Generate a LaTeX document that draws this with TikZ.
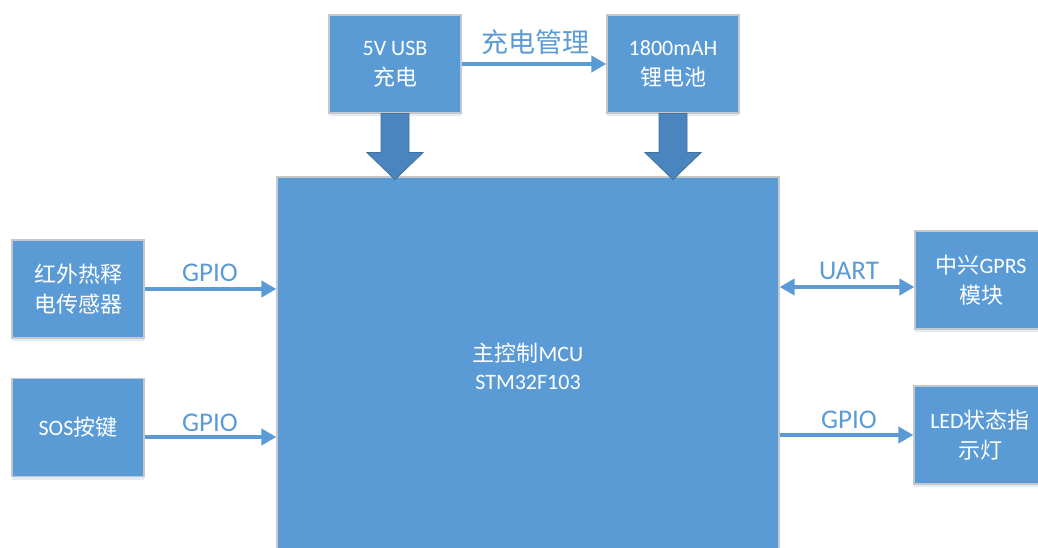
\documentclass[tikz,border=0pt]{standalone}
\usepackage{fontspec}
\setmainfont{Carlito}
\newfontfamily\cjk{Noto Sans CJK SC}
\usetikzlibrary{arrows.meta,shadows}
\definecolor{boxblue}{HTML}{5B9BD5}
\definecolor{arrblue}{HTML}{4A85BF}
\definecolor{arredge}{HTML}{41719C}
\definecolor{boxedge}{HTML}{C4C8CC}
\newcommand\myblockarrow[1]{\draw[blockarr,shift={(#1)}] (-14,0) -- (14,0) -- (14,39) -- (28,39) -- (0,66) -- (-28,39) -- (-14,39) -- cycle;}
\begin{document}
\begin{tikzpicture}[x=1pt,y=-1pt,
  box/.style={draw=boxedge,line width=1.2pt,fill=boxblue,minimum width=132pt,minimum height=98pt,
    text=white,font=\fontsize{22}{30}\selectfont,align=center,inner sep=0pt,
    drop shadow={shadow xshift=0pt,shadow yshift=-3pt,opacity=0.18,fill=boxblue}},
  conn/.style={draw=boxblue,line width=4pt,-{Triangle[length=15pt,width=16pt]}},
  biconn/.style={draw=boxblue,line width=4pt,{Triangle[length=15pt,width=16pt]}-{Triangle[length=15pt,width=16pt]}},
  lbl/.style={text=boxblue,font=\fontsize{27}{30}\selectfont,inner sep=0pt},
  blockarr/.style={fill=arrblue,draw=arredge,line width=0.8pt}]
\clip (0,0) rectangle (1038,548);
\fill[white] (0,0) rectangle (1038,548);
% main MCU
\node[draw=boxedge,line width=1.2pt,fill=boxblue,minimum width=502pt,minimum height=423pt,inner sep=0pt] (main) at (528,388.5) {};
\node[text=white,font=\fontsize{22}{28}\selectfont,align=center,inner sep=0pt] (maintext) at (528,366) {{\cjk 主控制}MCU\\STM32F103};
% boxes
\node[box] (usb) at (395,64) {5V USB\\{\cjk 充电}};
\node[box] (bat) at (673,64) {1800mAH\\{\cjk 锂电池}};
\node[box] (ir) at (78,289) {{\cjk 红外热释}\\{\cjk 电传感器}};
\node[box] (sos) at (78,427.5) {SOS{\cjk 按键}};
\node[box] (gprs) at (981,280) {{\cjk 中兴}GPRS\\{\cjk 模块}};
\node[box] (led) at (980,435) {LED{\cjk 状态指}\\{\cjk 示灯}};
% block arrows
\myblockarrow{usb.south}
\myblockarrow{bat.south}
% connectors
\draw[conn] (usb.east) -- (bat.west);
\node[lbl] (lcharge) at (535,42) {\cjk 充电管理};
\draw[conn] (ir.east) -- (ir.east -| main.west);
\node[lbl] (lgpio1) at (210,273) {GPIO};
\coordinate (sosout) at ([yshift=-9.5pt]sos.east);
\draw[conn] (sosout) -- (sosout -| main.west);
\node[lbl] (lgpio2) at (210,423) {GPIO};
\coordinate (gprsin) at ([yshift=-7pt]gprs.west);
\draw[biconn] (gprsin -| main.east) -- (gprsin);
\node[lbl] (luart) at (849,271) {UART};
\draw[conn] (led.west -| main.east) -- (led.west);
\node[lbl] (lgpio3) at (849,420) {GPIO};
\end{tikzpicture}
\end{document}
